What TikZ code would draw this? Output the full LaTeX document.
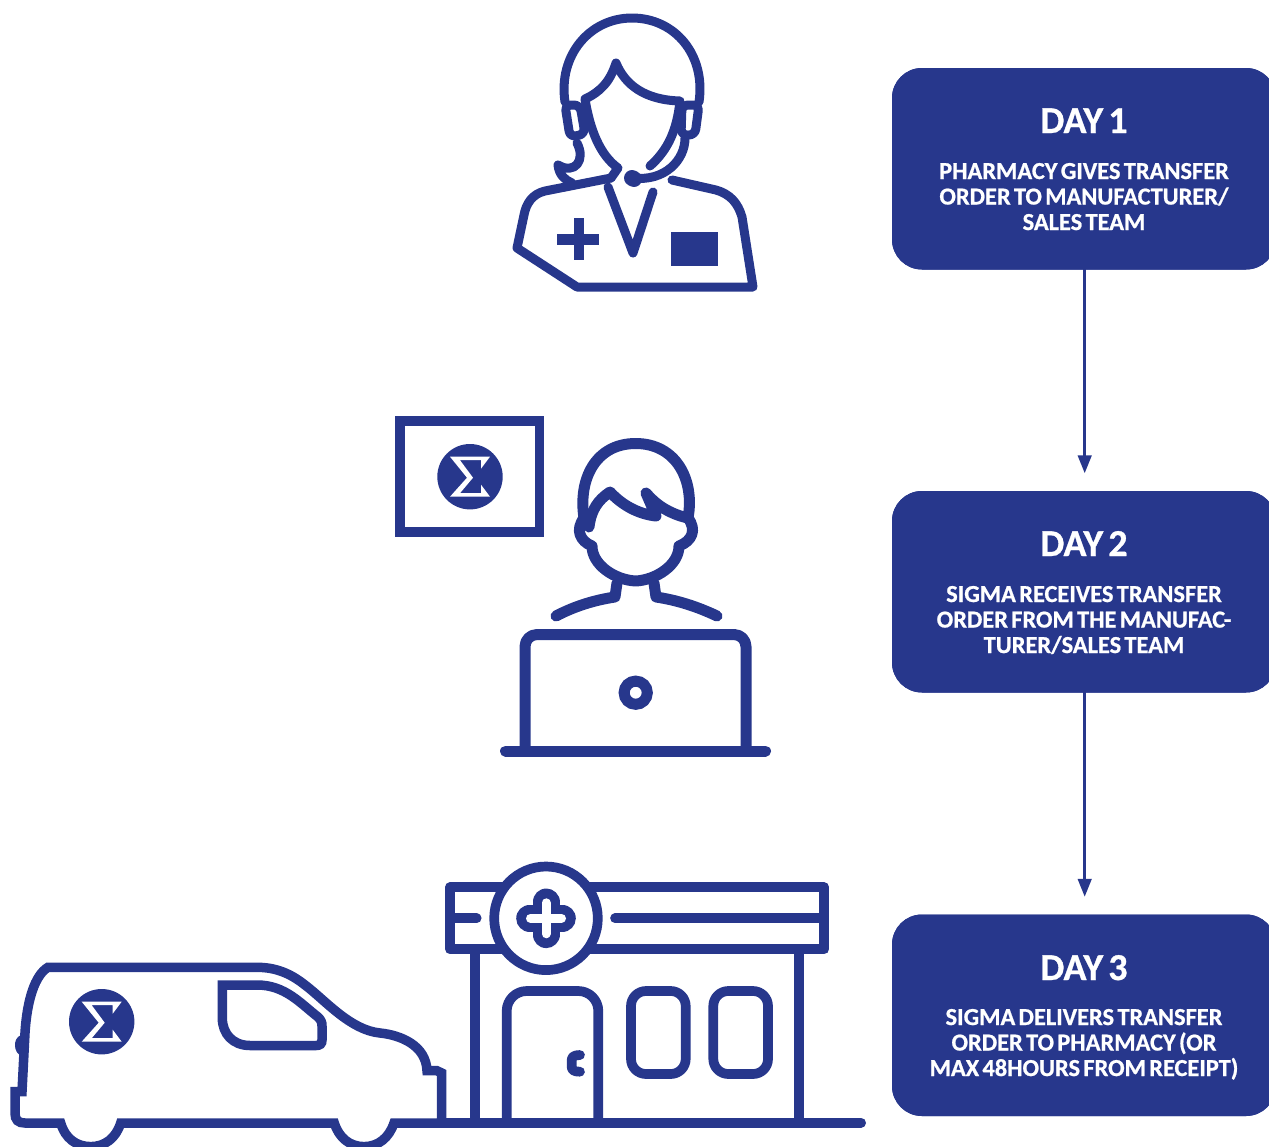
\documentclass[tikz,border=0pt]{standalone}
\usepackage{fontspec}
\setmainfont{Carlito}[BoldFeatures={FakeBold=0.8}]
\newfontfamily\tighttext{Carlito}[WordSpace=0.6,BoldFeatures={FakeBold=0.8}]
\usetikzlibrary{arrows.meta}
\definecolor{navy}{RGB}{39,55,140}
\tikzset{
  stepbox/.style={fill=navy,rounded corners=30pt,minimum width=384pt,minimum height=201.5pt,draw=none,inner sep=0pt},
  daytitle/.style={text=white,anchor=base,font=\tighttext\fontsize{38}{38}\selectfont\bfseries,inner sep=0pt},
  daytext/.style={text=white,anchor=base,align=center,font=\tighttext\fontsize{24.4}{25.5}\selectfont\bfseries,inner sep=0pt},
  flow/.style={draw=navy,line width=3pt,-{Triangle[length=18pt,width=13.5pt]},shorten >=17.5pt},
  ico/.style={draw=navy,line cap=round,line join=round,line width=#1},
  ico/.default=9.5pt,
  solid fill/.style={fill=navy,draw=none},
  logo/.pic={
    \fill[navy] (0,0) circle (32.7pt);
    \fill[white] (-20,-20) -- (20,-20) -- (11,-8) -- (11,-16.5) -- (-10,-16.5) -- (3,1) -- (-10,16.5) -- (11,16.5) -- (11,8) -- (20,20) -- (-20,20) -- (-3,1) -- cycle;
  }
}
\begin{document}
\begin{tikzpicture}[x=1pt,y=-1pt]
\useasboundingbox (0,0) rectangle (1269,1146);
\clip (0,0) rectangle (1269,1146);
% boxes
\node[stepbox] (box1) at (1084,168.75) {};
\node[stepbox] (box2) at (1084,591.75) {};
\node[stepbox] (box3) at (1084,1015.25) {};
\draw[flow] ([xshift=.7pt]box1.center) -- ([xshift=.7pt]box2.north);
\draw[flow] ([xshift=.7pt]box2.center) -- ([xshift=.7pt]box3.north);
\node[stepbox] at (box1) {};
\node[stepbox] at (box2) {};
\node[stepbox] at (box3) {};
\node[daytitle] (t1) at (1084,133) {DAY 1};
\node[daytext] (s1) at (1084,230) {PHARMACY GIVES TRANSFER\\ORDER TO MANUFACTURER/\\SALES TEAM};
\node[daytitle] (t2) at (1084,556) {DAY 2};
\node[daytext] (s2) at (1084,653) {SIGMA RECEIVES TRANSFER\\ORDER FROM THE  MANUFAC-\\TURER/SALES TEAM};
\node[daytitle] (t3) at (1084,980) {DAY 3};
\node[daytext] (s3) at (1084,1076) {SIGMA DELIVERS TRANSFER\\ORDER TO PHARMACY (OR\\MAX 48HOURS FROM RECEIPT)};

% pharmacist
\draw[ico=9pt] (565,102) .. controls (558,55) and (590,18) .. (632,18) .. controls (675,18) and (706,55) .. (699,102);
\draw[ico=9pt] (650,166) .. controls (668,150) and (677,130) .. (680,101) .. controls (645,100) and (625,85) .. (616,63) .. controls (610,82) and (600,92) .. (585,99) .. controls (590,130) and (600,155) .. (618,168) -- (611,178);
\draw[ico=9pt,rounded corners=6pt] (565,105) -- (580,105) -- (585,134) -- (570,137) -- cycle;
\draw[ico=9pt,rounded corners=6pt] (682,105) -- (699,105) -- (695,135) -- (681,135) -- cycle;
\draw[ico=9pt] (685,138) .. controls (685,160) and (665,182) .. (632,178);
\draw[ico=16pt] (632,178) -- (634,179);
\draw[ico=9pt] (577,143) .. controls (586,160) and (575,175) .. (558,165) .. controls (559,175) and (565,180) .. (572,183);
\draw[ico=9pt] (611,178) -- (545,191) .. controls (532,194) and (526,204) .. (524,215) -- (517,248) -- (577,287) -- (753,287) -- (742,217) .. controls (738,203) and (730,194) .. (716,190) -- (672,180);
\draw[ico=9pt] (608,187) -- (633,253) -- (653,192);
\path[solid fill] (573.5,218) rectangle (583.5,260);
\path[solid fill] (557,234) rectangle (599,245);
\path[solid fill] (671,232) rectangle (718,266);

% operator
\draw[navy,line width=9.5pt] (400,421) rectangle (539.5,532);
\pic at (470,476.7) {logo};
\draw[ico=11pt] (584,518) .. controls (578,480) and (595,443.5) .. (635.7,443.5) .. controls (676,443.5) and (695,480) .. (688,518);
\draw[ico=11pt] (589,527) .. controls (591,510) and (598,500) .. (610,492) .. controls (622,505) and (638,514) .. (656,516) -- (646,493) .. controls (656,505) and (670,514) .. (688,518);
\draw[ico=11pt] (584,518) .. controls (575,530) and (580,541) .. (592,546) .. controls (592,565) and (615,580) .. (635.7,581) .. controls (656,580) and (679,565) .. (679,546) .. controls (692,541) and (697,530) .. (688,518);
\draw[ico=11pt] (617,583) -- (615,597) .. controls (595,600) and (575,606) .. (556,616);
\draw[ico=11pt] (654,583) -- (656,597) .. controls (676,600) and (696,606) .. (717,616);
\draw[ico=11pt,rounded corners=12pt] (525,751) -- (525,634.5) -- (746,634.5) -- (746,751);
\draw[ico=11pt] (505.5,751) -- (765.5,751);
\draw[navy,line width=11pt] (635.7,692.7) circle (11.6pt);

% van
\draw[ico=9.5pt,line join=miter] (441.7,1122.7) -- (441.7,1073) -- (437,1070.7) -- (427,1070.7) .. controls (426,1045) and (400,1035) .. (380,1033) .. controls (350,1030) and (325,1000) .. (305,985) .. controls (290,973) and (275,967.3) .. (257,967.3) -- (48,967.3) .. controls (35,975) and (27,1000) .. (25,1033) -- (22,1091.7) -- (15,1091.7) -- (15,1113) .. controls (15,1120) and (18,1123) .. (25,1123) -- (60.7,1123) .. controls (65,1138) and (76,1146.6) .. (90.7,1146.6) .. controls (105,1146.6) and (116,1138) .. (120.7,1123) -- (334.3,1123) .. controls (339,1138) and (350,1146.6) .. (364,1146.6) .. controls (378,1146.6) and (389,1138) .. (394,1123) -- (441.7,1123);
\draw[ico=6pt] (22,1038) .. controls (16,1040) and (17,1052) .. (23,1053);
\draw[ico=9.5pt,line join=miter] (222.3,985) -- (257,985) .. controls (285,985) and (300,1003) .. (318,1017) .. controls (321,1020) and (322,1022) .. (322,1026) -- (322,1040) .. controls (322,1044) and (320,1045.5) .. (316,1045.5) -- (250,1045.5) .. controls (233,1045.5) and (222.3,1034) .. (222.3,1018) -- cycle;
\pic at (101.7,1021.7) {logo};

% pharmacy
\draw[ico=9.7pt] (475,949.3) -- (475,1123);
\draw[ico=9.7pt] (798.7,949.3) -- (798.7,1123);
\draw[ico=9.7pt] (450,887.3) rectangle (824.3,949.3);
\draw[ico=9.7pt] (450,918.3) -- (476.7,918.3);
\draw[ico=9.7pt] (615,918.3) -- (824,918.3);
\draw[navy,fill=white,line width=9.7pt] (546,918.3) circle (51.8pt);
\draw[navy,line width=27pt,line cap=round] (546,902) -- (546,934.6) (529.7,918.3) -- (562.3,918.3);
\draw[white,line width=9pt,line cap=round] (546,902.8) -- (546,933.8) (530.5,918.3) -- (561.5,918.3);
\draw[ico=9.7pt,rounded corners=20pt] (506.7,1123) -- (506.7,991) -- (598.3,991) -- (598.3,1123);
\draw[ico=9.7pt] (580,1055) .. controls (574,1055) and (571.7,1057) .. (571.7,1060) -- (571.7,1067) .. controls (571.7,1070) and (574,1071.7) .. (580,1071.7);
\draw[ico=9.7pt,rounded corners=15pt] (631,991) rectangle (685.7,1074);
\draw[ico=9.7pt,rounded corners=15pt] (713.3,991) rectangle (768,1074);
\draw[ico=10pt] (441.7,1122.7) -- (861,1122.7);
\end{tikzpicture}
\end{document}
